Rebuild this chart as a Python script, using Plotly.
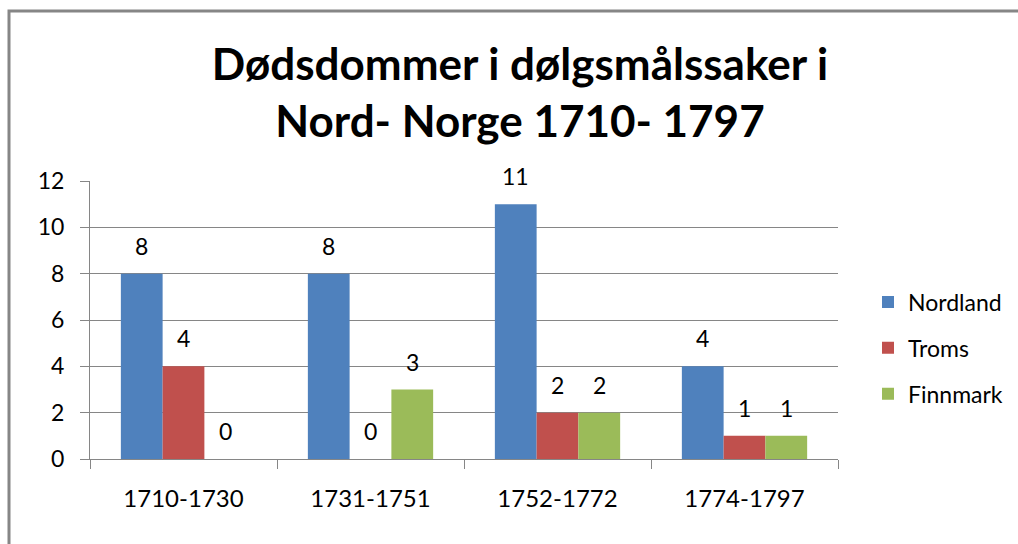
import plotly.graph_objects as go

categories = ["1710-1730", "1731-1751", "1752-1772", "1774-1797"]
series_names = ["Nordland", "Troms", "Finnmark"]
nordland = [8, 8, 11, 4]
troms = [4, 0, 2, 1]
finnmark = [0, 3, 2, 1]
colors = ["#4F81BD", "#C0504D", "#9BBB59"]
y_ticks = [0, 2, 4, 6, 8, 10, 12]

W, H = 1018, 544
L, R, T, B = 90, 180, 181, 85
plot_w = W - L - R
plot_h = H - T - B
bargap = 0.33
FONT = "Lato"

fig = go.Figure()
all_series = [nordland, troms, finnmark]
for i, (name, vals) in enumerate(zip(series_names, all_series)):
    fig.add_trace(go.Bar(
        x=categories, y=vals, name=name, marker_color=colors[i],
        marker_line_width=0, legendgroup=name,
    ))

# data labels
bar_px = plot_w / len(categories) * (1 - bargap) / len(series_names)
annotations = []
for i, vals in enumerate(all_series):
    offset = (i - (len(series_names) - 1) / 2) * bar_px
    for c, v in zip(categories, vals):
        annotations.append(dict(
            x=c, y=v, xref="x", yref="y", text=str(v), showarrow=False,
            xshift=offset, yshift=28, font=dict(family=FONT, size=23, color="#000"),
        ))

fig.update_layout(
    width=W, height=H,
    margin=dict(l=L, r=R, t=T, b=B),
    paper_bgcolor="white", plot_bgcolor="white",
    barmode="group", bargap=bargap, bargroupgap=0,
    title=dict(
        text="Dødsdommer i dølgsmålssaker i<br>Nord- Norge 1710- 1797",
        font=dict(family=FONT, size=44, color="#000", weight="bold"),
        x=520 / W, xanchor="center", xref="container",
        y=1 - 80 / H, yanchor="top", yref="container",
    ),
    font=dict(family=FONT, size=23, color="#000"),
    legend=dict(
        xref="container", yref="container",
        x=868 / W, xanchor="left",
        y=1 - 348 / H, yanchor="middle",
        font=dict(family=FONT, size=23, color="#000"),
        traceorder="grouped", tracegroupgap=13,
        bgcolor="rgba(0,0,0,0)",
    ),
    annotations=annotations,
    shapes=[dict(
        type="rect", xref="paper", yref="paper",
        x0=(9 - L) / plot_w, x1=(W + 20 - L) / plot_w,
        y0=-(B + 20) / plot_h, y1=(459 - 11) / plot_h,
        line=dict(color="#868686", width=3), fillcolor="rgba(0,0,0,0)",
        layer="above",
    )],
)

fig.update_yaxes(
    range=[0, 12], tickvals=y_ticks, showgrid=True, gridcolor="#868686", gridwidth=1,
    showline=True, linecolor="#868686", linewidth=1,
    ticks="outside", ticklen=9, tickcolor="#868686",
    ticklabelstandoff=11, tickfont=dict(family=FONT, size=23, color="#000"),
    zeroline=False,
)
fig.update_xaxes(
    showline=True, linecolor="#868686", linewidth=1,
    ticks="outside", ticklen=9, tickcolor="#868686", tickson="boundaries",
    ticklabelstandoff=18, tickfont=dict(family=FONT, size=24, color="#000"),
    showgrid=False,
)

fig.write_html(
    "out.html",
    config={"displayModeBar": False},
    post_script="document.body.style.margin='0px';document.body.style.overflow='hidden';",
)
